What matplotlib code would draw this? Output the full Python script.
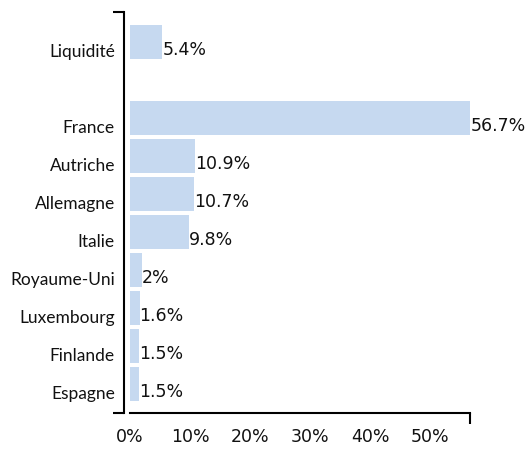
import matplotlib
matplotlib.use("Agg")
import matplotlib.pyplot as plt
from matplotlib.transforms import ScaledTranslation

categories = ["Liquidité", "France", "Autriche", "Allemagne", "Italie",
              "Royaume-Uni", "Luxembourg", "Finlande", "Espagne"]
values = [5.4, 56.7, 10.9, 10.7, 9.8, 2, 1.6, 1.5, 1.5]
positions = [0, 2, 3, 4, 5, 6, 7, 8, 9]
xticks = [0, 10, 20, 30, 40, 50]

bar_color = "#c6d9f0"
num_font = ["DejaVu Sans"]
cat_font = ["Lato", "DejaVu Sans"]

fig = plt.figure(figsize=(5.29, 4.49), dpi=100)
ax = fig.add_axes([0.2457, 0.0802, 0.6437, 0.893])

ax.barh(positions, values, height=0.9, color=bar_color)
ax.set_xlim(0, max(values))
ax.set_ylim(9.76, -0.79)

# labels sit a bit below the bar centres
shift = ScaledTranslation(0, -8 / 100, fig.dpi_scale_trans)

for p, v in zip(positions, values):
    ax.text(v, p, f"{v:g}%", ha="left", va="center", fontsize=12.5,
            family=num_font, color="#111111", transform=ax.transData + shift)

ax.set_xticks(xticks)
ax.set_yticks(positions)

ax.tick_params(axis="x", which="major", length=0, pad=11)
ax.tick_params(axis="y", which="major", length=0, pad=6.5)

# bracket-style caps at the spine ends
ax.set_xticks([0, max(values)], minor=True)
ax.set_yticks(list(ax.get_ylim()), minor=True)
ax.tick_params(which="minor", length=8, width=1.5, direction="out")

for side in ["top", "right"]:
    ax.spines[side].set_visible(False)
ax.spines["left"].set_position(("outward", 4.3))
ax.spines["left"].set_linewidth(1.5)
ax.spines["bottom"].set_linewidth(1.5)

ax.set_xticklabels([f"{t}%" for t in xticks], fontsize=12.5,
                   family=num_font, color="#111111")
ax.set_yticklabels(categories, color="#111111", family=cat_font, fontsize=12.5)
for lab in ax.get_yticklabels():
    lab.set_transform(lab.get_transform() + shift)

fig.savefig("out.png", dpi=100)
